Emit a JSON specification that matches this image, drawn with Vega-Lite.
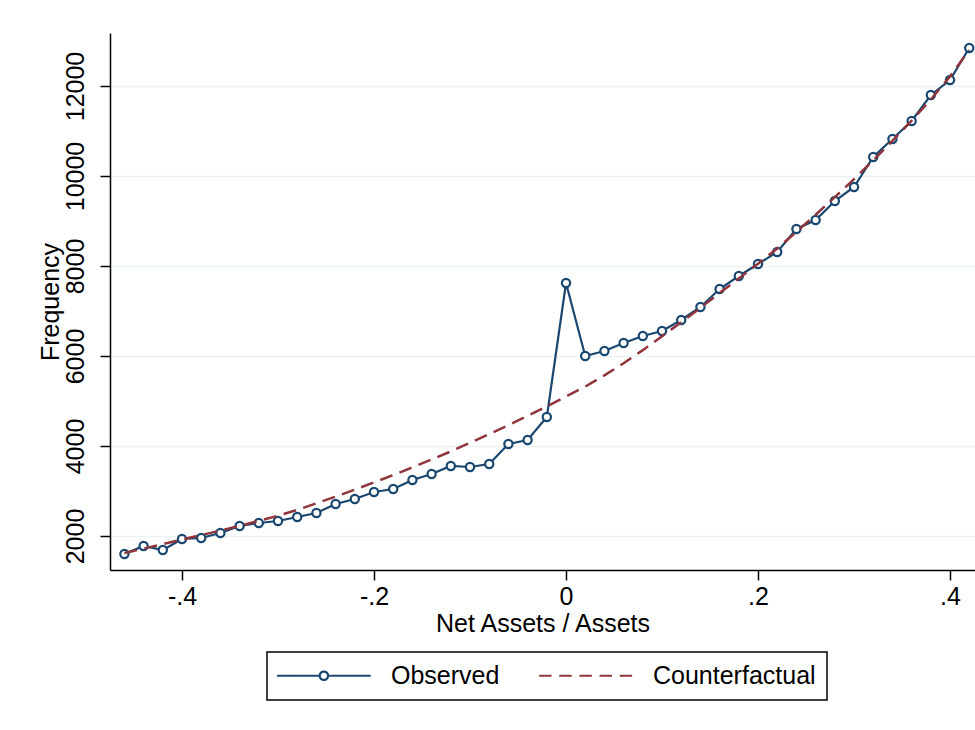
{
  "$schema": "https://vega.github.io/schema/vega-lite/v6.json",
  "autosize": {"type": "none"},
  "width": 865,
  "height": 537,
  "padding": {"left": 110, "top": 33, "right": 0, "bottom": 160},
  "background": "white",
  "config": {
    "view": {"stroke": null},
    "font": "Liberation Sans",
    "axis": {
      "labelFont": "Liberation Sans",
      "titleFont": "Liberation Sans",
      "labelFontSize": 25,
      "titleFontSize": 25,
      "titleFontWeight": "normal",
      "labelColor": "black",
      "titleColor": "black",
      "domainColor": "black",
      "tickColor": "black",
      "domainWidth": 1.5,
      "tickWidth": 1.5,
      "tickSize": 10,
      "labelFlush": false,
      "labelOverlap": false
    }
  },
  "data": {
    "values": [
      {"x": -0.46, "v": 1600, "s": "Observed"},
      {"x": -0.44, "v": 1778, "s": "Observed"},
      {"x": -0.42, "v": 1689, "s": "Observed"},
      {"x": -0.40, "v": 1933, "s": "Observed"},
      {"x": -0.38, "v": 1956, "s": "Observed"},
      {"x": -0.36, "v": 2067, "s": "Observed"},
      {"x": -0.34, "v": 2222, "s": "Observed"},
      {"x": -0.32, "v": 2289, "s": "Observed"},
      {"x": -0.30, "v": 2333, "s": "Observed"},
      {"x": -0.28, "v": 2422, "s": "Observed"},
      {"x": -0.26, "v": 2511, "s": "Observed"},
      {"x": -0.24, "v": 2711, "s": "Observed"},
      {"x": -0.22, "v": 2822, "s": "Observed"},
      {"x": -0.20, "v": 2978, "s": "Observed"},
      {"x": -0.18, "v": 3044, "s": "Observed"},
      {"x": -0.16, "v": 3244, "s": "Observed"},
      {"x": -0.14, "v": 3378, "s": "Observed"},
      {"x": -0.12, "v": 3556, "s": "Observed"},
      {"x": -0.10, "v": 3533, "s": "Observed"},
      {"x": -0.08, "v": 3600, "s": "Observed"},
      {"x": -0.06, "v": 4044, "s": "Observed"},
      {"x": -0.04, "v": 4133, "s": "Observed"},
      {"x": -0.02, "v": 4644, "s": "Observed"},
      {"x": 0.00, "v": 7622, "s": "Observed"},
      {"x": 0.02, "v": 6000, "s": "Observed"},
      {"x": 0.04, "v": 6111, "s": "Observed"},
      {"x": 0.06, "v": 6289, "s": "Observed"},
      {"x": 0.08, "v": 6444, "s": "Observed"},
      {"x": 0.10, "v": 6556, "s": "Observed"},
      {"x": 0.12, "v": 6800, "s": "Observed"},
      {"x": 0.14, "v": 7089, "s": "Observed"},
      {"x": 0.16, "v": 7489, "s": "Observed"},
      {"x": 0.18, "v": 7778, "s": "Observed"},
      {"x": 0.20, "v": 8044, "s": "Observed"},
      {"x": 0.22, "v": 8311, "s": "Observed"},
      {"x": 0.24, "v": 8822, "s": "Observed"},
      {"x": 0.26, "v": 9022, "s": "Observed"},
      {"x": 0.28, "v": 9444, "s": "Observed"},
      {"x": 0.30, "v": 9756, "s": "Observed"},
      {"x": 0.32, "v": 10422, "s": "Observed"},
      {"x": 0.34, "v": 10822, "s": "Observed"},
      {"x": 0.36, "v": 11222, "s": "Observed"},
      {"x": 0.38, "v": 11800, "s": "Observed"},
      {"x": 0.40, "v": 12133, "s": "Observed"},
      {"x": 0.42, "v": 12844, "s": "Observed"},
      {"x": -0.46, "v": 1620, "s": "Counterfactual"},
      {"x": -0.44, "v": 1720, "s": "Counterfactual"},
      {"x": -0.42, "v": 1820, "s": "Counterfactual"},
      {"x": -0.40, "v": 1920, "s": "Counterfactual"},
      {"x": -0.38, "v": 2020, "s": "Counterfactual"},
      {"x": -0.36, "v": 2120, "s": "Counterfactual"},
      {"x": -0.34, "v": 2225, "s": "Counterfactual"},
      {"x": -0.32, "v": 2335, "s": "Counterfactual"},
      {"x": -0.30, "v": 2450, "s": "Counterfactual"},
      {"x": -0.28, "v": 2580, "s": "Counterfactual"},
      {"x": -0.26, "v": 2725, "s": "Counterfactual"},
      {"x": -0.24, "v": 2875, "s": "Counterfactual"},
      {"x": -0.22, "v": 3030, "s": "Counterfactual"},
      {"x": -0.20, "v": 3190, "s": "Counterfactual"},
      {"x": -0.18, "v": 3355, "s": "Counterfactual"},
      {"x": -0.16, "v": 3525, "s": "Counterfactual"},
      {"x": -0.14, "v": 3700, "s": "Counterfactual"},
      {"x": -0.12, "v": 3880, "s": "Counterfactual"},
      {"x": -0.10, "v": 4070, "s": "Counterfactual"},
      {"x": -0.08, "v": 4265, "s": "Counterfactual"},
      {"x": -0.06, "v": 4465, "s": "Counterfactual"},
      {"x": -0.04, "v": 4670, "s": "Counterfactual"},
      {"x": -0.02, "v": 4880, "s": "Counterfactual"},
      {"x": 0.00, "v": 5100, "s": "Counterfactual"},
      {"x": 0.02, "v": 5320, "s": "Counterfactual"},
      {"x": 0.04, "v": 5570, "s": "Counterfactual"},
      {"x": 0.06, "v": 5840, "s": "Counterfactual"},
      {"x": 0.08, "v": 6130, "s": "Counterfactual"},
      {"x": 0.10, "v": 6440, "s": "Counterfactual"},
      {"x": 0.12, "v": 6750, "s": "Counterfactual"},
      {"x": 0.14, "v": 7070, "s": "Counterfactual"},
      {"x": 0.16, "v": 7400, "s": "Counterfactual"},
      {"x": 0.18, "v": 7720, "s": "Counterfactual"},
      {"x": 0.20, "v": 8050, "s": "Counterfactual"},
      {"x": 0.22, "v": 8390, "s": "Counterfactual"},
      {"x": 0.24, "v": 8760, "s": "Counterfactual"},
      {"x": 0.26, "v": 9140, "s": "Counterfactual"},
      {"x": 0.28, "v": 9530, "s": "Counterfactual"},
      {"x": 0.30, "v": 9930, "s": "Counterfactual"},
      {"x": 0.32, "v": 10350, "s": "Counterfactual"},
      {"x": 0.34, "v": 10780, "s": "Counterfactual"},
      {"x": 0.36, "v": 11230, "s": "Counterfactual"},
      {"x": 0.38, "v": 11700, "s": "Counterfactual"},
      {"x": 0.40, "v": 12210, "s": "Counterfactual"},
      {"x": 0.42, "v": 12800, "s": "Counterfactual"}
    ]
  },
  "encoding": {
    "x": {
      "field": "x",
      "type": "quantitative",
      "scale": {"domain": [-0.475, 0.426], "nice": false, "zero": false},
      "axis": {
        "values": [-0.4, -0.2, 0, 0.2, 0.4],
        "labelExpr": "datum.value == 0 ? '0' : (datum.value < 0 ? '-' : '') + '.' + format(abs(datum.value) * 10, '.0f')",
        "title": "Net Assets / Assets",
        "grid": false,
        "labelBaseline": "alphabetic",
        "labelPadding": 24,
        "titleY": 61,
        "titleBaseline": "alphabetic"
      }
    },
    "y": {
      "field": "v",
      "type": "quantitative",
      "scale": {"domain": [1244, 13178], "nice": false, "zero": false},
      "axis": {
        "values": [2000, 4000, 6000, 8000, 10000, 12000],
        "format": "d",
        "title": "Frequency",
        "grid": true,
        "gridColor": "#eaf2f3",
        "gridWidth": 1.5,
        "labelAngle": 270,
        "labelAlign": "center",
        "labelBaseline": "bottom",
        "labelPadding": 12,
        "titleX": -52,
        "titleY": 268.5,
        "titleAlign": "center",
        "titleBaseline": "alphabetic",
        "titleAngle": 270
      }
    }
  },
  "layer": [
    {
      "transform": [{"filter": "datum.s == 'Observed'"}],
      "mark": {"type": "line", "strokeWidth": 2.2},
      "encoding": {
        "color": {
          "field": "s",
          "type": "nominal",
          "scale": {"domain": ["Observed", "Counterfactual"], "range": ["#1a476f", "#90353b"]},
          "legend": {
            "title": null,
            "orient": "none",
            "legendX": 157,
            "legendY": 619,
            "direction": "horizontal",
            "columns": 2,
            "strokeColor": "black",
            "padding": 11,
            "labelFont": "Liberation Sans",
            "labelFontSize": 25,
            "labelColor": "black",
            "labelOffset": 88,
            "labelLimit": 400,
            "columnPadding": 34,
            "symbolType": "stroke",
            "symbolSize": 350,
            "symbolStrokeWidth": 2.2,
            "encode": {
              "legend": {
                "update": {
                  "strokeWidth": {"value": 1.5}
                }
              },
              "symbols": {
                "update": {
                  "shape": {"signal": "datum.value == 'Observed' ? 'M-1.43,0H3.12M4.02,0H8.57M4.02,0A0.45,0.45,0,1,1,3.12,0A0.45,0.45,0,1,1,4.02,0' : 'M-1.43,0H8.57'"},
                  "strokeDash": {"signal": "datum.value == 'Observed' ? [1, 0] : [12.4, 7.75]"},
                  "fill": {"value": "white"},
                  "fillOpacity": {"value": 1}
                }
              }
            }
          }
        }
      }
    },
    {
      "transform": [{"filter": "datum.s == 'Observed'"}],
      "mark": {"type": "point", "shape": "circle", "filled": true, "fill": "white", "stroke": "#1a476f", "strokeWidth": 2.2, "size": 68, "opacity": 1}
    },
    {
      "transform": [{"filter": "datum.s == 'Counterfactual'"}],
      "mark": {"type": "line", "strokeWidth": 2.5, "strokeDash": [13, 7.5]},
      "encoding": {
        "color": {"field": "s", "type": "nominal"}
      }
    }
  ]
}
